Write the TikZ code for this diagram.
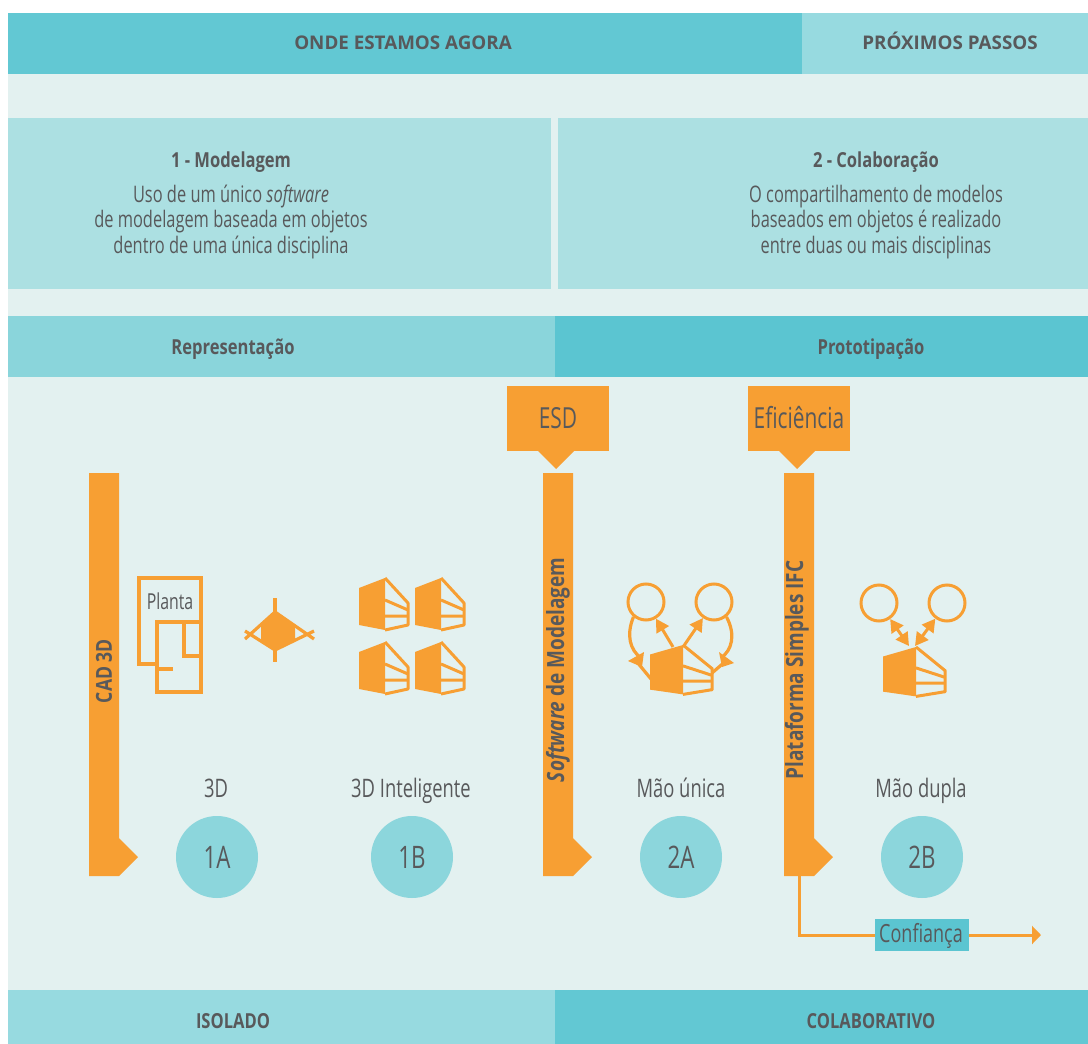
\documentclass[tikz,border=0pt]{standalone}
\usepackage{fontspec}
\setmainfont{Open Sans}
\newfontfamily\condfont[FakeStretch=0.8]{Open Sans}
\newfontfamily\narrowfont[FakeStretch=0.72]{Open Sans}
\usetikzlibrary{arrows.meta}
\definecolor{pale}{HTML}{E3F1F0}
\definecolor{panel}{HTML}{ACE0E2}
\definecolor{teal}{HTML}{62C8D3}
\definecolor{tealdark}{HTML}{5BC5D1}
\definecolor{teallight}{HTML}{97DAE0}
\definecolor{tealmid}{HTML}{8AD5DB}
\definecolor{roundfill}{HTML}{8CD6DC}
\definecolor{orange}{HTML}{F79F33}
\definecolor{ink}{HTML}{58595B}
\tikzset{
  head/.style={text=ink, anchor=base, font=\bfseries\fontsize{18.8}{20}\selectfont},
  title/.style={text=ink, anchor=base, font=\condfont\bfseries\fontsize{20.7}{24}\selectfont},
  body/.style={text=ink, align=center, font=\narrowfont\fontsize{22.8}{25.5}\selectfont},
  label/.style={text=ink, anchor=base, font=\narrowfont\fontsize{25.5}{28}\selectfont},
  tag/.style={text=ink, anchor=base, font=\narrowfont\fontsize{29}{31}\selectfont},
  barlabel/.style={text=ink, rotate=90, font=\condfont\bfseries\fontsize{23.7}{26}\selectfont},
  stage/.style={circle, fill=roundfill, minimum size=82pt, inner sep=0pt, text=ink, font=\narrowfont\fontsize{31}{33}\selectfont},
  peer/.style={circle, draw=orange, line width=3pt, minimum size=36pt, inner sep=0pt},
  icon/.style={draw=orange, line width=3.2pt, line join=miter},
  link/.style={draw=orange, line width=3pt, -{Triangle[length=13pt,width=14pt]}},
  both/.style={draw=orange, line width=3pt, {Triangle[length=13pt,width=14pt]}-{Triangle[length=13pt,width=14pt]}},
  pics/building/.style={code={
    \fill[orange] (0,10) -- (26,0) -- (26,52) -- (0,47) -- cycle;
    \draw[orange, line width=3pt, line join=round] (26,0) -- (49,25) -- (49,47) -- (26,52);
    \draw[orange, line width=3pt] (26,22) -- (49,32) (26,38) -- (49,38);
  }}
}
\begin{document}
\begin{tikzpicture}[x=1pt, y=-1pt]
\useasboundingbox (0,0) rectangle (1088,1044);
\fill[white] (0,0) rectangle (1088,1044);
\fill[pale] (8,13) rectangle (1088,1044);

% faixas
\fill[teal] (8,13) rectangle (802,74);
\fill[teallight] (802,13) rectangle (1088,74);
\fill[panel] (8,118) rectangle (551,289);
\fill[panel] (558,118) rectangle (1088,289);
\fill[tealmid] (8,316) rectangle (555,377);
\fill[tealdark] (555,316) rectangle (1088,377);
\fill[teallight] (8,990) rectangle (555,1044);
\fill[teal] (555,990) rectangle (1088,1044);

\node[head] (agora) at (403,49.5) {ONDE ESTAMOS AGORA};
\node[head] (passos) at (950,49.5) {PRÓXIMOS PASSOS};
\node[title] (modelagem) at (231,167) {1 - Modelagem};
\node[body] (modelagemtxt) at (231,222) {Uso de um único \textit{software}\\de modelagem baseada em objetos\\dentro de uma única disciplina};
\node[title] (colaboracao) at (876,167) {2 - Colaboração};
\node[body] (colaboracaotxt) at (876,222) {O compartilhamento de modelos\\baseados em objetos é realizado\\entre duas ou mais disciplinas};
\node[title] (representacao) at (233,354) {Representação};
\node[title] (prototipacao) at (871,354) {Prototipação};
\node[title] (isolado) at (233,1028) {ISOLADO};
\node[title] (colaborativo) at (871,1028) {COLABORATIVO};

% barras
\fill[orange] (89,473) -- (119,473) -- (119,838) -- (138,857) -- (119,876) -- (89,876) -- cycle;
\fill[orange] (543,473) -- (573,473) -- (573,838) -- (592,857) -- (573,876) -- (543,876) -- cycle;
\fill[orange] (784,473) -- (814,473) -- (814,838) -- (833,857) -- (814,876) -- (784,876) -- cycle;
\node[barlabel, font=\condfont\bfseries\fontsize{22}{24}\selectfont] (cad) at (104,671) {CAD 3D};
\node[barlabel] (software) at (558,670) {\textit{Software} de Modelagem};
\node[barlabel] (plataforma) at (797,670) {Plataforma Simples IFC};

\fill[orange] (507,386) rectangle (609,451);
\fill[orange] (538,451) -- (556,469) -- (574,451) -- cycle;
\fill[orange] (748,386) rectangle (850,451);
\fill[orange] (779,451) -- (797,469) -- (815,451) -- cycle;
\node[tag] (esd) at (558,428) {ESD};
\node[tag] (eficiencia) at (799,428) {Eficiência};

% planta
\draw[icon] (157,664) -- (139,664) -- (139,578) -- (201,578) -- (201,622);
\draw[icon] (157,622) rectangle (201,692);
\draw[icon] (184,622) -- (184,656) -- (201,656);
\draw[icon] (157,669) -- (173,669);
\node[text=ink, anchor=base, font=\narrowfont\fontsize{22}{24}\selectfont] (planta) at (170,609) {Planta};

% losango
\fill[orange] (275,612) -- (295,625) -- (295,640) -- (275,650) -- (261,640) -- (261,625) -- cycle;
\draw[icon] (275,598) -- (275,662);
\draw[icon] (275,612) -- (314,639) (275,650) -- (314,631);
\draw[icon] (275,612) -- (245,639) (275,650) -- (245,631);

\pic at (359,578) {building};
\pic at (415,578) {building};
\pic at (359,642) {building};
\pic at (415,642) {building};

% mao unica
\pic[xscale=1.27, yscale=.95] at (650,645) {building};
\node[peer] (p1) at (646,602) {};
\node[peer] (p2) at (714,602) {};
\coordinate (b1) at (673,647);
\coordinate (b2) at (683,647);
\coordinate (b3) at (651,679);
\coordinate (b4) at (712,673);
\draw[link] (b1) -- (p1);
\draw[link] (b2) -- (p2);
\draw[icon] (p1.230) .. controls (626,635) and (630,650) .. (641,658);
\draw[icon] (p2.310) .. controls (736,635) and (732,650) .. (721,658);
\draw[icon] (b3) -- (637,662);
\draw[icon] (b4) -- (727,660);
\fill[orange] (628,661) -- (644,652) -- (642,667) -- cycle;
\fill[orange] (734,663) -- (719,652) -- (722,667) -- cycle;

% mao dupla
\pic[xscale=1.27, yscale=.95] at (883,647) {building};
\node[peer] (p3) at (879,603) {};
\node[peer] (p4) at (947,603) {};
\coordinate (b5) at (909,646);
\coordinate (b6) at (915,646);
\draw[both] (b5) -- (p3);
\draw[both] (b6) -- (p4);

% estagios
\node[label] (t1a) at (216,797) {3D};
\node[label] (t1b) at (411,797) {3D Inteligente};
\node[label] (t2a) at (681,797) {Mão única};
\node[label] (t2b) at (921,797) {Mão dupla};
\node[stage] (s1a) at (217,857) {1A};
\node[stage] (s1b) at (412,857) {1B};
\node[stage] (s2a) at (681,857) {2A};
\node[stage] (s2b) at (922,857) {2B};

% confianca
\coordinate (base) at (799,876);
\coordinate (fim) at (1041,935);
\draw[link, -{Triangle[length=9pt,width=18pt]}] (base) |- (fim);
\node[fill=tealdark, minimum width=94pt, minimum height=32pt, inner sep=0pt] (confbox) at (922,935) {};
\node[text=ink, anchor=base, font=\narrowfont\fontsize{25}{27}\selectfont] (confianca) at (921,942) {Confiança};
\end{tikzpicture}
\end{document}
